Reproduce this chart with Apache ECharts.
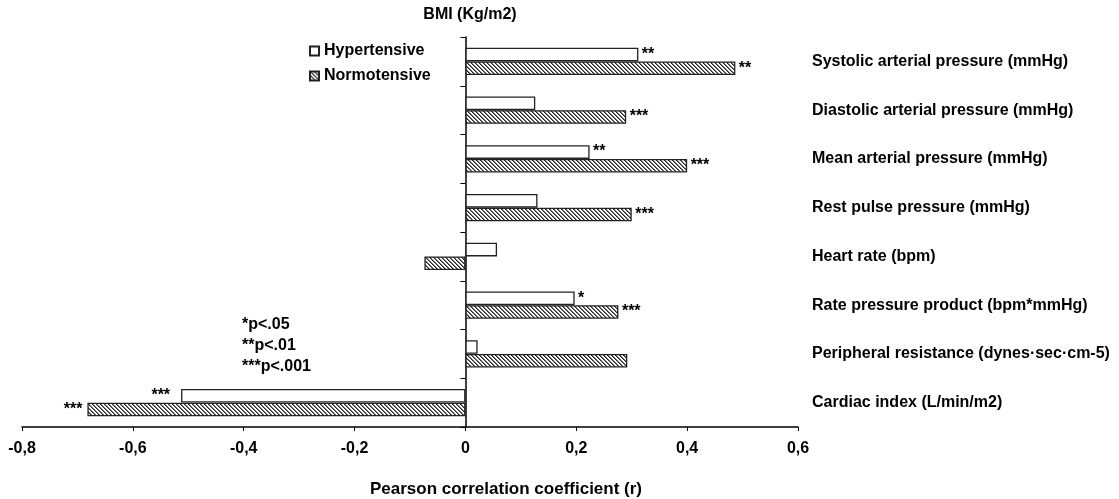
<!DOCTYPE html>
<html>
<head>
<meta charset="utf-8">
<script src="https://cdn.jsdelivr.net/npm/echarts@6/dist/echarts.min.js"></script>
<style>html,body{margin:0;padding:0;background:#fff;}#c{width:1119px;height:499px;}</style>
</head>
<body>
<div id="c"></div>
<script>
const categories = ['Systolic arterial pressure (mmHg)', 'Diastolic arterial pressure (mmHg)', 'Mean arterial pressure (mmHg)', 'Rest pulse pressure (mmHg)', 'Heart rate (bpm)', 'Rate pressure product (bpm*mmHg)', 'Peripheral resistance (dynes\u00b7sec\u00b7cm-5)', 'Cardiac index (L/min/m2)'];
const hypertensive = [0.312, 0.126, 0.224, 0.130, 0.057, 0.197, 0.022, -0.513];
const normotensive = [0.487, 0.290, 0.400, 0.300, -0.074, 0.276, 0.292, -0.682];
const hyperStars = ['**', '', '**', '', '', '*', '', '***'];
const normoStars = ['**', '***', '***', '***', '', '***', '', '***'];
const tickLabels = ['-0,8', '-0,6', '-0,4', '-0,2', '0', '0,2', '0,4', '0,6'];
const sigNotes = ['*p<.05', '**p<.01', '***p<.001'];

const FONT = '"Liberation Sans", Arial, sans-serif';

function hatch() {
  const cv = document.createElement('canvas');
  cv.width = 8; cv.height = 8;
  const ctx = cv.getContext('2d');
  const img = ctx.createImageData(8, 8);
  for (let y = 0; y < 8; y++) {
    for (let x = 0; x < 8; x++) {
      const d = ((x - y) % 4 + 4) % 4;
      let v = 255;
      if (d === 0) v = 40; else if (d === 1) v = 120;
      const i = (y * 8 + x) * 4;
      img.data[i] = v; img.data[i + 1] = v; img.data[i + 2] = v; img.data[i + 3] = 255;
    }
  }
  ctx.putImageData(img, 0, 0);
  return cv;
}

function mk(values, stars, negDist) {
  return values.map((v, i) => ({
    value: v,
    label: { position: v < 0 ? 'left' : 'right', distance: v < 0 ? negDist : 3.5, formatter: stars[i] }
  }));
}

const chart = echarts.init(document.getElementById('c'));
const labelCommon = { show: true, color: '#000', fontFamily: FONT, fontWeight: 'bold', fontSize: 16 };
chart.setOption({
  animation: false,
  backgroundColor: '#fff',
  grid: { left: 22, right: 321, top: 37, bottom: 72, outerBoundsMode: 'none' },
  legend: {
    orient: 'vertical', left: 304, top: 38, itemWidth: 9, itemHeight: 9, itemGap: 9,
    icon: 'rect',
    textStyle: { fontFamily: FONT, fontWeight: 'bold', fontSize: 16, color: '#000', lineHeight: 16 },
    data: ['Hypertensive', 'Normotensive']
  },
  xAxis: {
    type: 'value', min: -0.8, max: 0.6, interval: 0.2,
    axisLine: { show: true, onZero: false, lineStyle: { color: '#000', width: 1.5 } },
    axisTick: { show: true, length: 4, lineStyle: { color: '#000' } },
    axisLabel: {
      margin: 14, fontFamily: FONT, fontWeight: 'bold', fontSize: 16, color: '#000',
      formatter: (v) => { const i = Math.round((v + 0.8) / 0.2); return tickLabels[i]; }
    },
    splitLine: { show: false }
  },
  yAxis: [{
    type: 'category', data: categories, inverse: true,
    axisLine: { show: true, onZero: true, lineStyle: { color: '#000', width: 1.5 } },
    axisTick: { show: true, length: 5, lineStyle: { color: '#000' } },
    axisLabel: { show: false },
    splitLine: { show: false }
  }, {
    type: 'category', data: categories, inverse: true, position: 'right',
    axisLine: { show: false, onZero: false },
    axisTick: { show: false },
    axisLabel: { margin: 14, fontFamily: FONT, fontWeight: 'bold', fontSize: 16, color: '#000' },
    splitLine: { show: false }
  }],
  series: [{
    name: 'Hypertensive', type: 'bar', yAxisIndex: 0, barWidth: 13.6, barGap: '0%',
    itemStyle: { color: '#fff', borderColor: '#222', borderWidth: 1.3 },
    label: labelCommon,
    data: mk(hypertensive, hyperStars, 11)
  }, {
    name: 'Normotensive', type: 'bar', yAxisIndex: 0, barWidth: 13.6, barGap: '0%',
    itemStyle: { color: { image: hatch(), repeat: 'repeat' }, borderColor: '#222', borderWidth: 1.3 },
    label: labelCommon,
    data: mk(normotensive, normoStars, 5)
  }],
  graphic: [
    { type: 'text', x: 470, y: 15, style: { text: 'BMI (Kg/m2)', align: 'center', verticalAlign: 'middle', font: 'bold 16px ' + FONT, fill: '#000' } },
    { type: 'text', x: 506, y: 489, style: { text: 'Pearson correlation coefficient (r)', align: 'center', verticalAlign: 'middle', font: 'bold 17px ' + FONT, fill: '#000' } }
  ].concat(sigNotes.map((t, i) => ({
    type: 'text', x: 242, y: 325 + i * 21,
    style: { text: t, align: 'left', verticalAlign: 'middle', font: 'bold 16px ' + FONT, fill: '#000' }
  })))
});
</script>
</body>
</html>
